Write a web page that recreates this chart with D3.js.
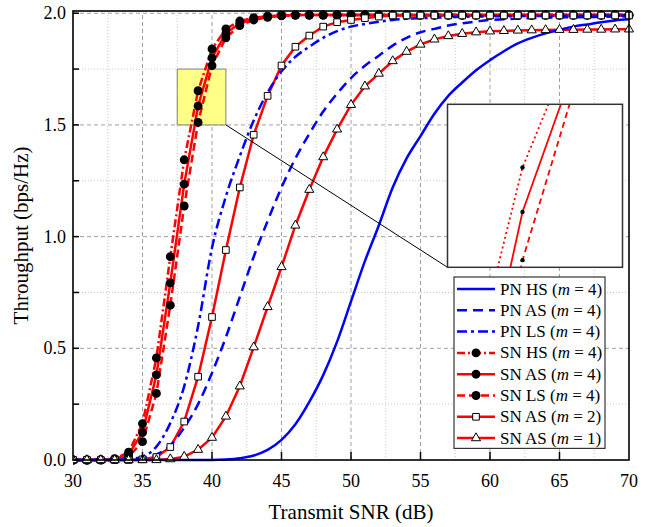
<!DOCTYPE html>
<html>
<head>
<meta charset="utf-8">
<script src="https://cdn.jsdelivr.net/npm/d3@7"></script>
<style>
body { margin: 0; background: #fff; }
text { font-family: "Liberation Serif", "Times New Roman", serif; }
</style>
</head>
<body>
<svg id="chart"></svg>
<script>
// x values (dB)
const snr = [30, 31, 32, 33, 34, 35, 36, 37, 38, 39, 40, 41, 42, 43, 44, 45, 46, 47, 48, 49, 50,
    51, 52, 53, 54, 55, 56, 57, 58, 59, 60, 61, 62, 63, 64, 65, 66, 67, 68, 69, 70];

// throughput per series
const pnHS = [0, 0, 0, 0, 0, 0, 0, 0, 0, 0, 0, 0.002, 0.008, 0.02, 0.045, 0.09, 0.16, 0.26, 0.38, 0.53, 0.71,
    0.89, 1.05, 1.22, 1.35, 1.45, 1.55, 1.63, 1.69, 1.745, 1.79, 1.83, 1.865, 1.89, 1.91, 1.925, 1.94, 1.95, 1.96, 1.968, 1.973];
const pnAS = [0, 0, 0, 0.001, 0.004, 0.01, 0.025, 0.065, 0.145, 0.25, 0.39, 0.55, 0.73, 0.91, 1.07, 1.22, 1.35, 1.46, 1.56, 1.64, 1.71,
    1.765, 1.81, 1.855, 1.89, 1.915, 1.93, 1.945, 1.955, 1.963, 1.97, 1.973, 1.976, 1.978, 1.98, 1.981, 1.982, 1.983, 1.984, 1.985, 1.985];
const pnLS = [0, 0, 0, 0.001, 0.004, 0.015, 0.06, 0.165, 0.33, 0.6, 0.95, 1.18, 1.36, 1.52, 1.645, 1.74, 1.805, 1.85, 1.89, 1.92, 1.94,
    1.952, 1.962, 1.97, 1.975, 1.978, 1.98, 1.982, 1.984, 1.985, 1.986, 1.987, 1.987, 1.988, 1.988, 1.988, 1.989, 1.989, 1.989, 1.99, 1.99];
const snHS = [0, 0, 0.001, 0.006, 0.035, 0.163, 0.457, 0.91, 1.344, 1.653, 1.84, 1.93, 1.965, 1.98, 1.987, 1.99, 1.992, 1.992, 1.992, 1.992, 1.992,
    1.992, 1.992, 1.992, 1.992, 1.992, 1.992, 1.992, 1.992, 1.992, 1.992, 1.992, 1.992, 1.992, 1.992, 1.992, 1.992, 1.992, 1.992, 1.992, 1.992];
const snAS = [0, 0, 0.001, 0.004, 0.025, 0.123, 0.381, 0.793, 1.235, 1.585, 1.8, 1.91, 1.955, 1.975, 1.985, 1.99, 1.992, 1.992, 1.992, 1.992, 1.992,
    1.992, 1.992, 1.992, 1.992, 1.992, 1.992, 1.992, 1.992, 1.992, 1.992, 1.992, 1.992, 1.992, 1.992, 1.992, 1.992, 1.992, 1.992, 1.992, 1.992];
const snLS = [0, 0, 0, 0.002, 0.015, 0.082, 0.298, 0.693, 1.137, 1.511, 1.765, 1.89, 1.945, 1.97, 1.982, 1.988, 1.992, 1.992, 1.992, 1.992, 1.992,
    1.992, 1.992, 1.992, 1.992, 1.992, 1.992, 1.992, 1.992, 1.992, 1.992, 1.992, 1.992, 1.992, 1.992, 1.992, 1.992, 1.992, 1.992, 1.992, 1.992];
const snAS2 = [0, 0, 0, 0, 0, 0.003, 0.013, 0.058, 0.172, 0.373, 0.64, 0.94, 1.22, 1.456, 1.63, 1.766, 1.85, 1.9, 1.94, 1.96, 1.97,
    1.978, 1.985, 1.99, 1.99, 1.99, 1.99, 1.99, 1.99, 1.99, 1.99, 1.99, 1.99, 1.99, 1.99, 1.99, 1.99, 1.99, 1.99, 1.99, 1.99];
const snAS1 = [0, 0, 0, 0, 0, 0, 0, 0.004, 0.015, 0.046, 0.1, 0.195, 0.33, 0.505, 0.685, 0.864, 1.05, 1.21, 1.356, 1.48, 1.59,
    1.673, 1.73, 1.786, 1.828, 1.86, 1.883, 1.898, 1.908, 1.915, 1.919, 1.921, 1.923, 1.924, 1.925, 1.926, 1.926, 1.927, 1.927, 1.928, 1.928];

const xTicks = [30, 35, 40, 45, 50, 55, 60, 65, 70];
const yTicks = [0, 0.5, 1.0, 1.5, 2.0];
const yTickLabels = ["0.0", "0.5", "1.0", "1.5", "2.0"];
const xMinor = [32.5, 37.5, 42.5, 47.5, 52.5, 57.5, 62.5, 67.5];
const yMinor = [0.25, 0.75, 1.25, 1.75];

// zoomed window shown in the inset
const zoomX = [37.5, 41];
const zoomY = [1.5, 1.75];

const blue = "#0000ff", red = "#ff0000";

const series = [
    {name: "PN HS", m: 4, values: pnHS, color: blue, dash: null, marker: null},
    {name: "PN AS", m: 4, values: pnAS, color: blue, dash: "10,6", marker: null},
    {name: "PN LS", m: 4, values: pnLS, color: blue, dash: "10,4,3,4", marker: null},
    {name: "SN HS", m: 4, values: snHS, color: red, dash: "8,3,2,3", marker: "dot"},
    {name: "SN AS", m: 4, values: snAS, color: red, dash: null, marker: "dot"},
    {name: "SN LS", m: 4, values: snLS, color: red, dash: "8,4", marker: "dot"},
    {name: "SN AS", m: 2, values: snAS2, color: red, dash: null, marker: "square"},
    {name: "SN AS", m: 1, values: snAS1, color: red, dash: null, marker: "triangle"},
];

const width = 651, height = 527;
const margin = {top: 11, right: 22, bottom: 67, left: 73};

const svg = d3.select("#chart")
    .attr("width", width)
    .attr("height", height);

const xScale = d3.scaleLinear().domain([30, 70]).range([margin.left, width - margin.right]);
const yScale = d3.scaleLinear().domain([0, 2.01]).range([height - margin.bottom, margin.top]);

const x0 = margin.left, x1 = width - margin.right;
const y0 = height - margin.bottom, y1 = margin.top;

// grid
const grid = svg.append("g");
grid.selectAll(".gxm").data(xMinor).enter().append("line")
    .attr("x1", d => xScale(d)).attr("x2", d => xScale(d))
    .attr("y1", y0).attr("y2", y1)
    .attr("stroke", "#c8c8c8").attr("stroke-dasharray", "1,2");
grid.selectAll(".gym").data(yMinor).enter().append("line")
    .attr("y1", d => yScale(d)).attr("y2", d => yScale(d))
    .attr("x1", x0).attr("x2", x1)
    .attr("stroke", "#c8c8c8").attr("stroke-dasharray", "1,2");
grid.selectAll(".gx").data(xTicks.slice(1, -1)).enter().append("line")
    .attr("x1", d => xScale(d)).attr("x2", d => xScale(d))
    .attr("y1", y0).attr("y2", y1)
    .attr("stroke", "#a0a0a0").attr("stroke-dasharray", "4,3");
grid.selectAll(".gy").data(yTicks.slice(1)).enter().append("line")
    .attr("y1", d => yScale(d)).attr("y2", d => yScale(d))
    .attr("x1", x0).attr("x2", x1)
    .attr("stroke", "#a0a0a0").attr("stroke-dasharray", "4,3");

// yellow zoom box
svg.append("rect")
    .attr("x", xScale(zoomX[0]))
    .attr("y", yScale(zoomY[1]))
    .attr("width", xScale(zoomX[1]) - xScale(zoomX[0]))
    .attr("height", yScale(zoomY[0]) - yScale(zoomY[1]))
    .attr("fill", "#ffff88")
    .attr("stroke", "#808080")
    .attr("stroke-width", 1);

function symbolFor(kind, scale) {
    if (kind === "square") return d3.symbol().type(d3.symbolSquare).size(44 * scale)();
    if (kind === "triangle") return d3.symbol().type(d3.symbolTriangle).size(36 * scale)();
    return d3.symbol().type(d3.symbolCircle).size(62 * scale)();
}

function drawSeries(g, sx, sy, lineWidth) {
    const order = [3, 4, 5, 6, 7, 0, 1, 2];
    order.forEach(i => {
        const s = series[i];
        const pts = snr.map((v, k) => [v, s.values[k]]);
        const line = d3.line()
            .x(d => sx(d[0]))
            .y(d => sy(d[1]))
            .curve(s.color === blue ? d3.curveMonotoneX : d3.curveLinear);
        g.append("path")
            .datum(pts)
            .attr("fill", "none")
            .attr("stroke", s.color)
            .attr("stroke-width", lineWidth)
            .attr("stroke-dasharray", s.dash)
            .attr("d", line);
    });
    series.forEach(s => {
        if (!s.marker) return;
        const pts = snr.map((v, k) => [v, s.values[k]]);
        g.selectAll(null)
            .data(pts)
            .enter()
            .append("path")
            .attr("transform", d => `translate(${sx(d[0])},${sy(d[1])})`)
            .attr("d", symbolFor(s.marker, 1))
            .attr("fill", s.marker === "dot" ? "#000" : "#fff")
            .attr("stroke", "#000")
            .attr("stroke-width", s.marker === "dot" ? 0 : 1);
    });
}

svg.append("clipPath").attr("id", "plotClip")
    .append("rect").attr("x", x0).attr("y", y1 - 6).attr("width", x1 - x0 + 6).attr("height", y0 - y1 + 12);

const plot = svg.append("g").attr("clip-path", "url(#plotClip)");
drawSeries(plot, xScale, yScale, 2.5);

// frame
svg.append("rect")
    .attr("x", x0).attr("y", y1)
    .attr("width", x1 - x0).attr("height", y0 - y1)
    .attr("fill", "none").attr("stroke", "#000").attr("stroke-width", 1.6);

// ticks
svg.selectAll(".xt").data(xTicks.slice(1, -1)).enter().append("line")
    .attr("x1", d => xScale(d)).attr("x2", d => xScale(d))
    .attr("y1", y0).attr("y2", y0 - 8)
    .attr("stroke", "#000").attr("stroke-width", 1.5);
svg.selectAll(".yt").data(yTicks.concat(yMinor)).enter().append("line")
    .attr("y1", d => yScale(d)).attr("y2", d => yScale(d))
    .attr("x1", x0).attr("x2", x0 + 6)
    .attr("stroke", "#000").attr("stroke-width", 1.5);

// tick labels
svg.selectAll(".xl").data(xTicks).enter().append("text")
    .attr("x", d => xScale(d)).attr("y", y0 + 27)
    .attr("text-anchor", "middle")
    .attr("font-size", 18)
    .text(d => d);
svg.selectAll(".yl").data(yTicks).enter().append("text")
    .attr("x", x0 - 7).attr("y", d => yScale(d) + 6)
    .attr("text-anchor", "end")
    .attr("font-size", 18)
    .text((d, i) => yTickLabels[i]);

// axis titles
svg.append("text")
    .attr("x", (x0 + x1) / 2).attr("y", 519)
    .attr("text-anchor", "middle")
    .attr("font-size", 21)
    .text("Transmit SNR (dB)");
svg.append("text")
    .attr("transform", `translate(28, ${(y0 + y1) / 2}) rotate(-90)`)
    .attr("text-anchor", "middle")
    .attr("font-size", 21)
    .text("Throughput (bps/Hz)");

// inset
const inset = {x: 447.5, y: 104.3, w: 175, h: 163};
svg.append("line")
    .attr("x1", xScale(zoomX[1])).attr("y1", yScale(zoomY[0]))
    .attr("x2", inset.x).attr("y2", inset.y + inset.h)
    .attr("stroke", "#000").attr("stroke-width", 1);

const ig = svg.append("g").attr("transform", `translate(${inset.x},${inset.y})`);
ig.append("clipPath").attr("id", "insetClip")
    .append("rect").attr("width", inset.w).attr("height", inset.h);
ig.append("rect").attr("width", inset.w).attr("height", inset.h).attr("fill", "#fff");
const ix = d3.scaleLinear().domain(zoomX).range([0, inset.w]);
const iy = d3.scaleLinear().domain(zoomY).range([inset.h, 0]);
const insetPlot = ig.append("g").attr("clip-path", "url(#insetClip)");
[3, 4, 5].forEach(i => {
    const s = series[i];
    const pts = snr.map((v, k) => [v, s.values[k]]);
    insetPlot.append("path")
        .datum(pts)
        .attr("fill", "none")
        .attr("stroke", red)
        .attr("stroke-width", 1.8)
        .attr("stroke-dasharray", i === 3 ? "2,3" : (i === 5 ? "6,4" : null))
        .attr("d", d3.line().x(d => ix(d[0])).y(d => iy(d[1])));
    insetPlot.selectAll(null).data(pts).enter().append("circle")
        .attr("cx", d => ix(d[0])).attr("cy", d => iy(d[1]))
        .attr("r", 2.2).attr("fill", "#000");
});
ig.append("rect").attr("width", inset.w).attr("height", inset.h)
    .attr("fill", "none").attr("stroke", "#333").attr("stroke-width", 1.5);

// legend
const lg = svg.append("g").attr("transform", "translate(454,277)");
const rowH = 21.3;
lg.append("rect").attr("width", 151).attr("height", rowH * series.length + 1)
    .attr("fill", "#fff").attr("stroke", "#333").attr("stroke-width", 1.2);
series.forEach((s, i) => {
    const cy = 12 + i * rowH;
    lg.append("line")
        .attr("x1", 3).attr("x2", 41).attr("y1", cy).attr("y2", cy)
        .attr("stroke", s.color).attr("stroke-width", 2.5)
        .attr("stroke-dasharray", s.dash);
    if (s.marker) {
        lg.append("path")
            .attr("transform", `translate(22,${cy})`)
            .attr("d", symbolFor(s.marker, 1))
            .attr("fill", s.marker === "dot" ? "#000" : "#fff")
            .attr("stroke", "#000")
            .attr("stroke-width", s.marker === "dot" ? 0 : 1);
    }
    const t = lg.append("text")
        .attr("x", 46).attr("y", cy + 5.5)
        .attr("font-size", 17);
    t.append("tspan").text(s.name + " (");
    t.append("tspan").attr("font-style", "italic").text("m");
    t.append("tspan").text(" = " + s.m + ")");
});
</script>
</body>
</html>
